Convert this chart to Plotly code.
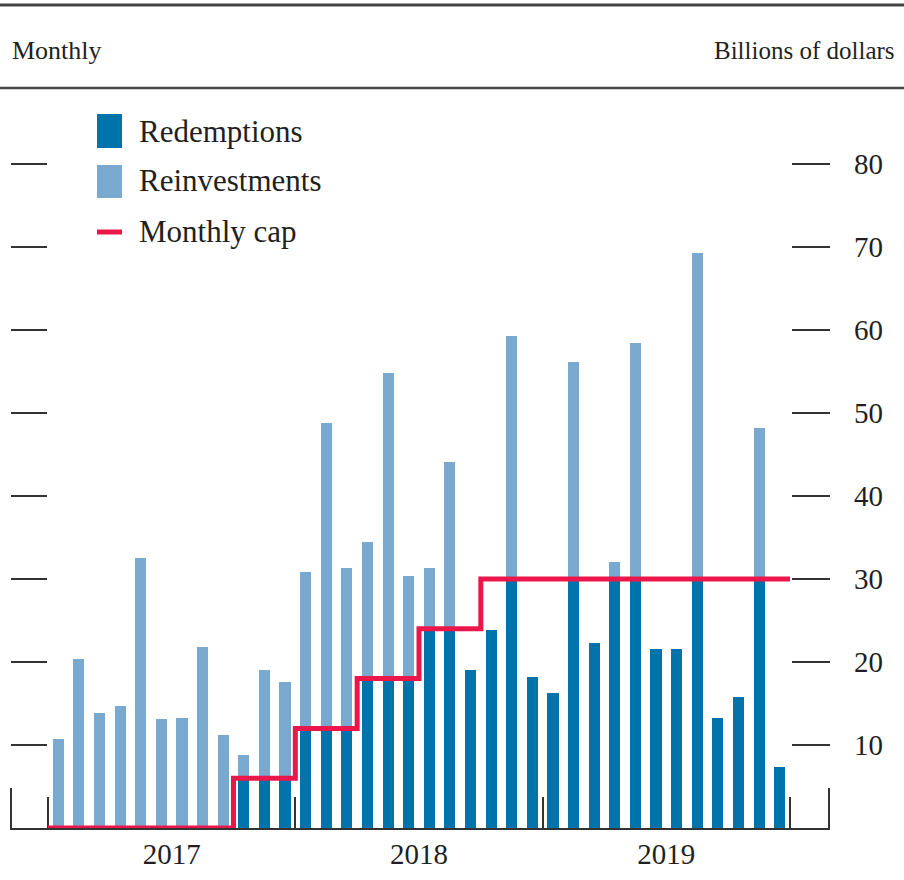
import plotly.graph_objects as go

# ---------------- data ----------------
months = [f"{y}-{m:02d}" for y in (2017, 2018, 2019) for m in range(1, 13)]
redemptions = [0, 0, 0, 0, 0, 0, 0, 0, 0, 6, 6, 6,
               12, 12, 12, 18, 18, 18, 24, 24, 19.0, 23.9, 30, 18.2,
               16.3, 30, 22.3, 30, 30, 21.6, 21.6, 30, 13.3, 15.8, 30, 7.3]
reinvestments = [10.7, 20.4, 13.8, 14.7, 32.5, 13.1, 13.3, 21.8, 11.2, 2.8, 13.0, 11.6,
                 18.9, 36.8, 19.3, 16.5, 36.8, 12.4, 7.3, 20.1, 0, 0, 29.3, 0,
                 0, 26.1, 0, 2.0, 28.4, 0, 0, 39.3, 0, 0, 18.2, 0]
monthly_cap = [0, 0, 0, 0, 0, 0, 0, 0, 0, 6, 6, 6,
               12, 12, 12, 18, 18, 18, 24, 24, 24, 30, 30, 30,
               30, 30, 30, 30, 30, 30, 30, 30, 30, 30, 30, 30]
year_labels = ["2017", "2018", "2019"]
y_ticks = [10, 20, 30, 40, 50, 60, 70, 80]

DARK = "#0073AA"
LIGHT = "#79A9CF"
RED = "#EB174B"
INK = "#231F20"
AXC = "#333333"
FONT = "Liberation Serif"

W, H = 904, 880
idx = list(range(len(months)))

fig = go.Figure()
fig.add_trace(go.Bar(x=idx, y=[v if v else None for v in redemptions], name="Redemptions",
                     marker=dict(color=DARK, line=dict(width=0)), width=0.54))
fig.add_trace(go.Bar(x=idx, y=[v if v else None for v in reinvestments], name="Reinvestments",
                     marker=dict(color=LIGHT, line=dict(width=0)), width=0.54))

# step line for cap on month boundaries
cap_x = [i - 0.5 for i in idx] + [idx[-1] + 0.5]
cap_y = monthly_cap + [monthly_cap[-1]]
fig.add_trace(go.Scatter(x=cap_x, y=cap_y, mode="lines", line=dict(color=RED, width=5, shape="hv"),
                         name="Monthly cap", cliponaxis=False))
# dummy traces so the helper axes render
fig.add_trace(go.Scatter(x=[5.5], y=[None], xaxis="x2", yaxis="y",
                         mode="markers", showlegend=False, hoverinfo="skip"))
fig.add_trace(go.Scatter(x=[0], y=[None], yaxis="y2", mode="markers", showlegend=False, hoverinfo="skip"))

# pixel geometry
bottom_px = 828
px_per_unit = 8.3
month_px = 742 / 36.0
x0_px = 48  # left edge of first month

def xval(px):
    return (px - x0_px) / month_px - 0.5

x_left, x_right = 10, 830
xr = [xval(x_left), xval(x_right)]
yr = [0, bottom_px / px_per_unit]

common_x = dict(range=xr, domain=[x_left / W, x_right / W], showgrid=False, zeroline=False, fixedrange=True)

fig.update_layout(
    width=W, height=H,
    margin=dict(l=0, r=0, t=0, b=H - bottom_px),
    paper_bgcolor="white", plot_bgcolor="white",
    barmode="stack", showlegend=False,
    font=dict(family=FONT, color=INK),
    xaxis=dict(**common_x, showline=True, linecolor=AXC, linewidth=2, layer="below traces",
               tickmode="array", tickvals=[-0.5, 11.5, 23.5, 35.5], ticks="inside", ticklen=31,
               tickwidth=2, tickcolor=AXC, showticklabels=False),
    xaxis2=dict(**common_x, overlaying="x", anchor="y", side="bottom", showline=False,
                tickmode="array", tickvals=[5.5, 17.5, 29.5], ticktext=year_labels, ticks="",
                tickfont=dict(family=FONT, size=29, color=INK), ticklabelstandoff=6),
    yaxis=dict(range=yr, domain=[0, 1], side="right", anchor="free", position=x_right / W,
               showgrid=False, zeroline=False, showline=False, fixedrange=True,
               tickmode="array", tickvals=y_ticks, ticks="inside", ticklen=38, tickwidth=2,
               tickcolor=AXC, tickfont=dict(family=FONT, size=29, color=INK), ticklabelstandoff=23),
    yaxis2=dict(range=yr, domain=[0, 1], overlaying="y", side="left", anchor="free",
                position=x_left / W, showgrid=False, zeroline=False, showline=False,
                tickmode="array", tickvals=y_ticks, ticks="inside", ticklen=36, tickwidth=2,
                tickcolor=AXC, showticklabels=False, fixedrange=True),
)

def py(px):
    return (bottom_px - px) / bottom_px

shapes = [
    dict(type="line", xref="paper", yref="paper", x0=-0.02, x1=1.02, y0=py(5), y1=py(5),
         line=dict(color="#444", width=3)),
    dict(type="line", xref="paper", yref="paper", x0=-0.02, x1=1.02, y0=py(88), y1=py(88),
         line=dict(color="#444", width=2.5)),
    # frame end ticks on the baseline
    dict(type="line", xref="paper", yref="paper", x0=(x_left + 1) / W, x1=(x_left + 1) / W,
         y0=0, y1=40 / bottom_px, line=dict(color=AXC, width=2), layer="below"),
    dict(type="line", xref="paper", yref="paper", x0=(x_right - 1) / W, x1=(x_right - 1) / W,
         y0=0, y1=40 / bottom_px, line=dict(color=AXC, width=2), layer="below"),
    # legend swatches
    dict(type="rect", xref="paper", yref="paper", x0=97 / W, x1=122 / W, y0=py(148), y1=py(114),
         fillcolor=DARK, line=dict(width=0)),
    dict(type="rect", xref="paper", yref="paper", x0=97 / W, x1=122 / W, y0=py(198), y1=py(165),
         fillcolor=LIGHT, line=dict(width=0)),
    dict(type="line", xref="paper", yref="paper", x0=97 / W, x1=122 / W, y0=py(232), y1=py(232),
         line=dict(color=RED, width=5)),
]
fig.update_layout(shapes=shapes)

ann = [
    dict(text="Monthly", x=10 / W, y=py(50), xanchor="left", yanchor="middle", size=26),
    dict(text="Billions of dollars", x=897 / W, y=py(50), xanchor="right", yanchor="middle", size=25),
    dict(text="Redemptions", x=137 / W, y=py(131), xanchor="left", yanchor="middle", size=31),
    dict(text="Reinvestments", x=137 / W, y=py(181), xanchor="left", yanchor="middle", size=31),
    dict(text="Monthly cap", x=137 / W, y=py(231), xanchor="left", yanchor="middle", size=31),
]
fig.update_layout(annotations=[
    dict(text=a["text"], x=a["x"], y=a["y"], xref="paper", yref="paper", xanchor=a["xanchor"],
         yanchor=a["yanchor"], showarrow=False, font=dict(family=FONT, size=a["size"], color=INK))
    for a in ann
])

fig.write_html("out.html", config={"displayModeBar": False},
               post_script="document.body.style.margin='0';document.body.style.padding='0';"
                           "document.body.style.overflow='hidden';")
